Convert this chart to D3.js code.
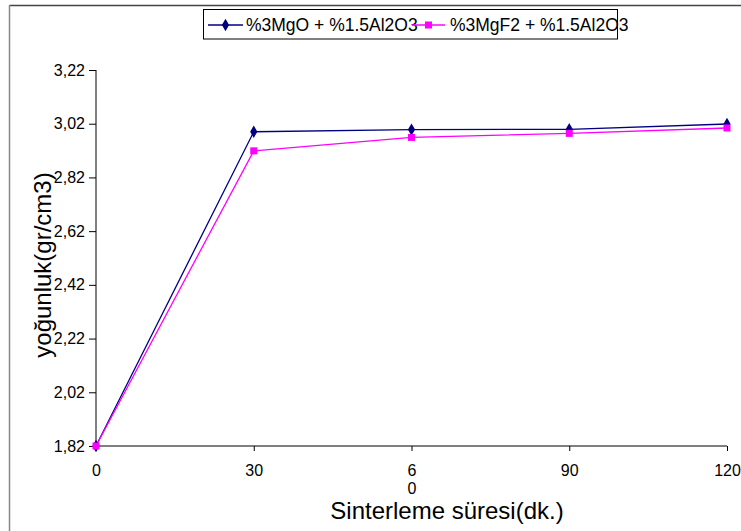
<!DOCTYPE html>
<html><head><meta charset="utf-8">
<script src="https://cdn.jsdelivr.net/npm/d3@7"></script>
<style>body{margin:0;background:#fff;}svg{display:block;font-family:"Liberation Sans",Arial,sans-serif;}</style>
</head><body>
<svg id="c" width="741" height="531"></svg>
<script>
const categories = ["0","30","60","90","120"];
const categoryLabels = [["0"],["30"],["6","0"],["90"],["120"]];
const seriesNames = ["%3MgO + %1.5Al2O3", "%3MgF2 + %1.5Al2O3"];
const mgoValues = [1.82, 2.990, 2.998, 2.999, 3.019];
const mgf2Values = [1.82, 2.919, 2.969, 2.984, 3.004];
const yTicks = [1.82, 2.02, 2.22, 2.42, 2.62, 2.82, 3.02, 3.22];
const colors = ["#000080", "#FF00FF"];

const svg = d3.select("#c");
const FONT = "'Liberation Sans',Arial,sans-serif";
// outer frame
svg.append("line").attr("x1",9.5).attr("x2",741).attr("y1",5.5).attr("y2",5.5).attr("stroke","#444").attr("stroke-width",1.5);
svg.append("line").attr("x1",9.5).attr("x2",9.5).attr("y1",5).attr("y2",531).attr("stroke","#888").attr("stroke-width",1.5);

const x = d3.scalePoint().domain(categories).range([96, 727]);
const y = d3.scaleLinear().domain([1.82, 3.22]).range([446, 70]);

// y axis
const yAxis = d3.axisLeft(y).tickValues(yTicks).tickSize(7).tickPadding(4)
  .tickFormat(d => d.toFixed(2).replace(".", ","));
const gy = svg.append("g").attr("transform","translate(96,0)").call(yAxis);
gy.select(".domain").attr("stroke","#000").attr("d","M0,70V446");
gy.selectAll(".tick line").attr("stroke","#000");
gy.selectAll(".tick text").attr("font-size","16px").attr("fill","#000").attr("font-family",FONT);

// x axis
const xAxis = d3.axisBottom(x).tickSize(5).tickFormat("");
const gx = svg.append("g").attr("transform","translate(0,446)").call(xAxis);
gx.select(".domain").attr("stroke","#000").attr("d","M96,0H727");
gx.selectAll(".tick line").attr("stroke","#000");
gx.selectAll(".tick").each(function(d,i){
  const t = d3.select(this).append("text").attr("fill","#000").attr("font-size","16px")
    .attr("text-anchor","middle").attr("font-family",FONT);
  categoryLabels[i].forEach((s,j)=>{
    t.append("tspan").attr("x",0).attr("y",30 + j*18).text(s);
  });
});

// axis titles
svg.append("text").attr("x",447).attr("y",519).attr("text-anchor","middle")
  .attr("font-size","24px").attr("fill","#000").text("Sinterleme süresi(dk.)");
svg.append("text").attr("transform","translate(51,265) rotate(-90)").attr("text-anchor","middle")
  .attr("font-size","24px").attr("fill","#000").text("yoğunluk(gr/cm3)");

// lines
const line = d3.line().x((d,i)=>x(categories[i])).y(d=>y(d));
const series = [mgoValues, mgf2Values];
series.forEach((vals, si) => {
  svg.append("path").datum(vals).attr("d", line).attr("fill","none")
    .attr("stroke", colors[si]).attr("stroke-width", 1.3);
});
// markers
const diamond = d3.symbol().type(d3.symbolDiamond).size(45);
svg.append("g").selectAll("path").data(mgoValues).join("path")
  .attr("d", diamond).attr("transform",(d,i)=>`translate(${x(categories[i])},${y(d)})`)
  .attr("fill", colors[0]);
svg.append("g").selectAll("rect").data(mgf2Values).join("rect")
  .attr("x",(d,i)=>x(categories[i])-3.5).attr("y",d=>y(d)-3.5).attr("width",7).attr("height",7)
  .attr("fill", colors[1]);

// legend
const lg = svg.append("g");
lg.append("rect").attr("x",203.5).attr("y",9.5).attr("width",414).attr("height",29.5)
  .attr("fill","#fff").attr("stroke","#000").attr("stroke-width",1);
const legItems = [{x1:208,x2:243,tx:246},{x1:412,x2:445,tx:450}];
legItems.forEach((it, i) => {
  lg.append("line").attr("x1",it.x1).attr("x2",it.x2).attr("y1",25).attr("y2",25)
    .attr("stroke",colors[i]).attr("stroke-width",1.3);
  const cx = (it.x1+it.x2)/2;
  if (i===0) lg.append("path").attr("d",diamond).attr("transform",`translate(${cx},25)`).attr("fill",colors[0]);
  else lg.append("rect").attr("x",cx-3.5).attr("y",21.5).attr("width",7).attr("height",7).attr("fill",colors[1]);
  lg.append("text").attr("x",it.tx).attr("y",31).attr("font-size","17.5px").attr("fill","#000").text(seriesNames[i]);
});
</script>
</body></html>
